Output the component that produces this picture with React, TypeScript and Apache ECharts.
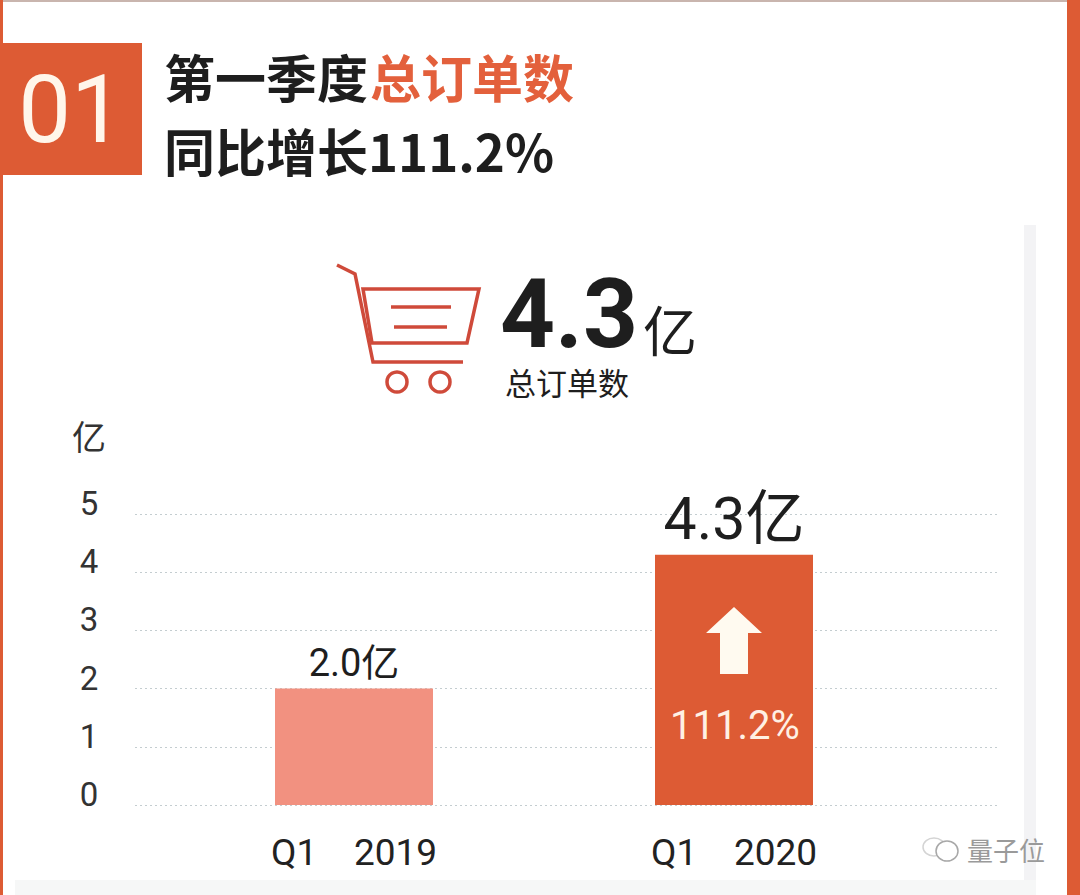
import React, { useEffect, useRef } from "react";
import * as echarts from "echarts";

const categories = ["Q1    2019", "Q1    2020"];
const orderValues = [2.0, 4.3];
const yTicks = [0, 1, 2, 3, 4, 5];
const growthLabel = "111.2%";
const unitLabel = "亿";
const titleDark1 = "第一季度";
const titleAccent = "总订单数";
const titleDark2 = "同比增长111.2%";
const badgeText = "01";
const headlineValue = "4.3";
const watermark = "量子位";

const ORANGE = "#dd5b34";
const PINK = "#f29180";
const DARK = "#1e1e1e";
const FONT = "Roboto, 'Noto Sans CJK SC', sans-serif";
const NARROW = "'Liberation Sans Narrow', Roboto, sans-serif";
const CJK = "'Noto Sans CJK SC', sans-serif";
const RED = "#cf4a3a";

export default function App() {
  const ref = useRef<HTMLDivElement>(null);
  useEffect(() => {
    const chart = echarts.init(ref.current!, undefined, { renderer: "svg" });
    const cartLine = { stroke: RED, lineWidth: 3.5, fill: "none" };
    chart.setOption({
      animation: false,
      backgroundColor: "#ffffff",
      grid: [
        { left: 135, right: 83, top: 514, bottom: 90 },
        { left: 164, right: 156, top: 514, bottom: 90 },
      ],
      xAxis: [
        { gridIndex: 0, type: "value", show: false, min: 0, max: 1 },
        {
          gridIndex: 1,
          type: "category",
          data: categories,
          axisLine: { show: false },
          axisTick: { show: false },
          axisLabel: { fontSize: 37, color: "#222222", fontFamily: FONT, margin: 29 },
        },
      ],
      yAxis: [
        {
          gridIndex: 0,
          type: "value",
          min: yTicks[0],
          max: yTicks[yTicks.length - 1],
          interval: 1,
          axisLine: { show: false },
          axisTick: { show: false },
          axisLabel: { fontSize: 33, lineHeight: 21, verticalAlign: "bottom", color: "#333333", fontFamily: NARROW, margin: 46, align: "center" },
          splitLine: { show: true, lineStyle: { color: "#c4cdd0", type: [2, 3], width: 1 } },
        },
        { gridIndex: 1, type: "value", min: 0, max: 5, interval: 1, show: false },
      ],
      series: [
        {
          type: "bar",
          xAxisIndex: 1,
          yAxisIndex: 1,
          barWidth: 158,
          data: [
            {
              value: orderValues[0],
              itemStyle: { color: PINK },
              label: { show: true, position: "top", distance: 7, fontSize: 38, color: DARK, fontFamily: FONT, formatter: (p: any) => p.value.toFixed(1) + unitLabel },
            },
            {
              value: orderValues[1],
              itemStyle: { color: ORANGE },
              label: { show: true, position: "top", distance: 7, fontSize: 59, color: DARK, fontFamily: FONT, formatter: (p: any) => p.value.toFixed(1) + unitLabel },
            },
          ],
        },
      ],
      graphic: [
        { type: "rect", z: -10, shape: { x: 0, y: 0, width: 1080, height: 2 }, style: { fill: "#c9b5ae" } },
        { type: "rect", z: -10, shape: { x: 0, y: 0, width: 3, height: 895 }, style: { fill: ORANGE } },
        { type: "rect", z: -10, shape: { x: 1067, y: 0, width: 13, height: 895 }, style: { fill: ORANGE } },
        { type: "rect", z: -10, shape: { x: 1024, y: 225, width: 12, height: 670 }, style: { fill: "#f3f3f5" } },
        { type: "rect", z: -10, shape: { x: 15, y: 880, width: 1021, height: 15 }, style: { fill: "#f6f7f7" } },
        { type: "rect", shape: { x: 0, y: 43, width: 142, height: 132 }, style: { fill: ORANGE } },
        { type: "text", style: { x: 71, y: 110, text: badgeText, align: "center", verticalAlign: "middle", fontSize: 94, fontFamily: FONT, fontWeight: 400, fill: "#fff6ea" } },
        { type: "text", style: { x: 164, y: 76, text: titleDark1, verticalAlign: "middle", fontSize: 51, fontWeight: 700, fontFamily: CJK, fill: DARK } },
        { type: "text", style: { x: 370, y: 76, text: titleAccent, verticalAlign: "middle", fontSize: 51, fontWeight: 700, fontFamily: CJK, fill: "#e3603c" } },
        { type: "text", style: { x: 164, y: 150, text: titleDark2, verticalAlign: "middle", fontSize: 51, fontWeight: 700, fontFamily: CJK, fill: DARK } },
        { type: "polyline", shape: { points: [[337, 265], [355, 274], [373, 362], [463, 362]] }, style: cartLine },
        { type: "polygon", shape: { points: [[363, 289], [479, 289], [467, 343], [372, 343]] }, style: cartLine },
        { type: "line", shape: { x1: 391, y1: 307, x2: 451, y2: 307 }, style: cartLine },
        { type: "line", shape: { x1: 394, y1: 327, x2: 447, y2: 327 }, style: cartLine },
        { type: "circle", shape: { cx: 397, cy: 382, r: 10 }, style: cartLine },
        { type: "circle", shape: { cx: 440, cy: 382, r: 10 }, style: cartLine },
        { type: "text", style: { x: 500, y: 314, text: headlineValue, verticalAlign: "middle", fontSize: 96, fontWeight: 700, fontFamily: FONT, fill: DARK } },
        { type: "text", style: { x: 643, y: 328, text: unitLabel, verticalAlign: "middle", fontSize: 54, fontFamily: CJK, fill: DARK } },
        { type: "text", style: { x: 505, y: 381, text: titleAccent, verticalAlign: "middle", fontSize: 31, fontFamily: CJK, fill: DARK } },
        { type: "text", style: { x: 89, y: 435, text: unitLabel, align: "center", verticalAlign: "middle", fontSize: 34, fontFamily: CJK, fill: "#333333" } },
        { type: "polygon", z: 10, shape: { points: [[734, 607], [762, 633], [748, 633], [748, 674], [720, 674], [720, 633], [706, 633]] }, style: { fill: "#fffaf0" } },
        { type: "text", z: 10, style: { x: 735, y: 725, text: growthLabel, align: "center", verticalAlign: "middle", fontSize: 40, fontFamily: FONT, fill: "#fff0e4" } },
        { type: "ellipse", shape: { cx: 934, cy: 847, rx: 11, ry: 9 }, style: { fill: "none", stroke: "#d4d4d4", lineWidth: 1.5 } },
        { type: "ellipse", shape: { cx: 947, cy: 851, rx: 11, ry: 10 }, style: { fill: "#ffffff", stroke: "#a8a8a8", lineWidth: 1.5 } },
        { type: "text", style: { x: 967, y: 849, text: watermark, verticalAlign: "middle", fontSize: 26, fontFamily: CJK, fill: "#9a9a9a" } },
      ],
    });
    return () => chart.dispose();
  }, []);
  return <div ref={ref} style={{ position: "fixed", left: 0, top: 0, width: 1080, height: 895 }} />;
}
